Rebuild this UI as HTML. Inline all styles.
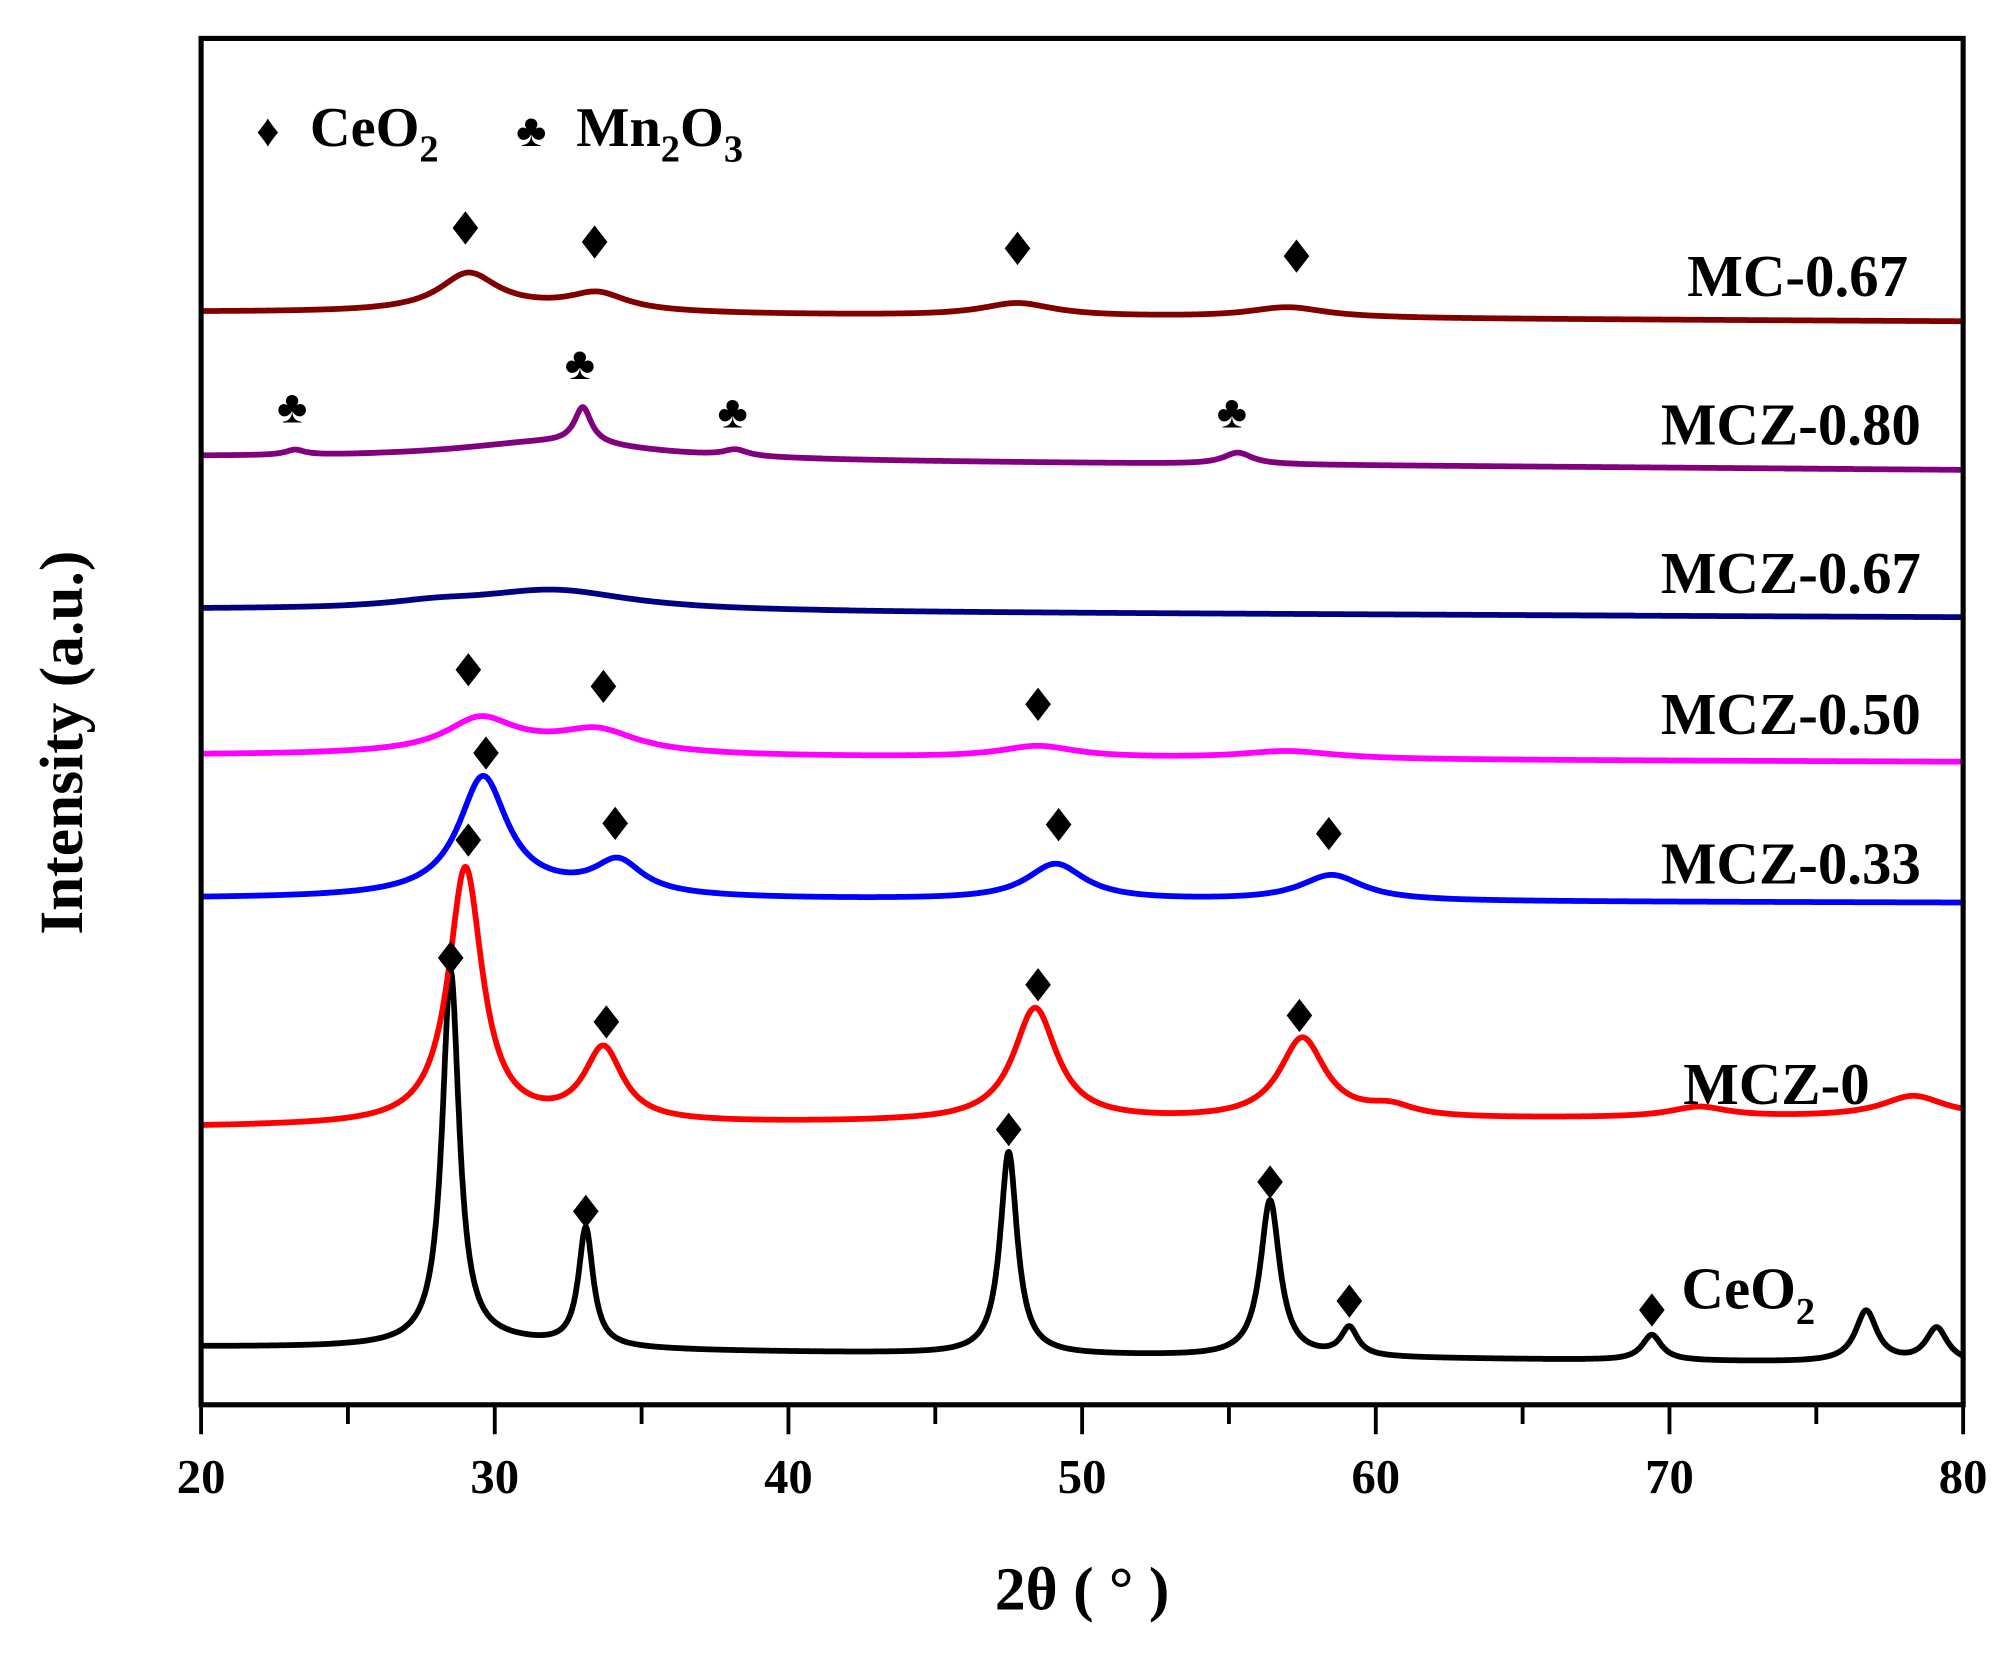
<!DOCTYPE html>
<html><head><meta charset="utf-8"><style>
html,body{margin:0;padding:0;background:#fff;}
svg{display:block;}
text{font-family:"Liberation Serif",serif;font-weight:bold;fill:#000;}
</style></head><body>
<svg id="chart" width="2008" height="1655" viewBox="0 0 1568 1292.4" xmlns="http://www.w3.org/2000/svg">
<rect x="0" y="0" width="1568" height="1293" fill="#fff"/>
<g id="series"></g>
<g id="markers"></g>
<rect x="157" y="30" width="1376" height="1067" fill="none" stroke="#000" stroke-width="4"/>
<g id="axis"></g>
<text x="845" y="1257" font-size="48" text-anchor="middle">2θ ( ° )</text>
<text transform="translate(64,580) rotate(-90)" font-size="48" text-anchor="middle">Intensity (a.u.)</text>
<g>
<text x="200" y="114" font-size="36">♦</text>
<text x="242" y="114" font-size="44">CeO<tspan font-size="30" dy="12">2</tspan></text>
<text x="403" y="114" font-size="36">♣</text>
<text x="450" y="114" font-size="44">Mn<tspan font-size="30" dy="12">2</tspan><tspan dy="-12">O</tspan><tspan font-size="30" dy="12">3</tspan></text>
</g>
</svg>
<script>
// Data
const seriesNames = ["CeO2","MCZ-0","MCZ-0.33","MCZ-0.50","MCZ-0.67","MCZ-0.80","MC-0.67"];
const seriesColors = ["#000000","#ff0000","#0000ff","#ff00ff","#000080","#800080","#800000"];
const baseStart = [1052,880,702,590,476,357,244];
const baseEnd = [1065,872,705,595,482,367,251];
const peaksCeO2 = [[28.5,290,0.35],[33.1,92,0.3],[47.5,158,0.35],[56.4,122,0.4],[59.1,22,0.35],[69.4,20,0.4],[76.7,40,0.45],[79.1,27,0.45],[30,6,3]];
const peaksMCZ0 = [[29.0,200,0.7],[33.7,57,0.8],[48.4,88,0.9],[57.5,63,0.95],[60.5,8,1],[71,8,1.2],[78.3,16,1.3]];
const peaksMCZ033 = [[29.6,90,1.0],[34.2,25,1.0],[49.1,28,1.2],[58.5,20,1.3],[31,6,4]];
const peaksMCZ050 = [[29.5,24,1.4],[33.5,16,1.6],[48.5,9,1.6],[57,6,2],[31,6,4]];
const peaksMCZ067 = [[32,16,3.2],[28,4,2]];
const peaksMCZ080 = [[33,28,0.35],[32,14,4],[23.2,4,0.4],[38.2,5,0.5],[55.3,9,0.6]];
const peaksMC067 = [[29.1,28,1.2],[33.5,13,1.2],[47.8,10,1.5],[57,8,1.6],[31,4,4]];
const seriesPeaks = [peaksCeO2,peaksMCZ0,peaksMCZ033,peaksMCZ050,peaksMCZ067,peaksMCZ080,peaksMC067];
const labelTexts = ["CeO","MCZ-0","MCZ-0.33","MCZ-0.50","MCZ-0.67","MCZ-0.80","MC-0.67"];
const labelPos = [[1420,1022],[1460,862],[1500,690],[1500,573],[1500,463],[1500,347],[1490,231]];
const diamondAngles = [[28.5,33.1,47.5,56.4,59.1,69.4],[29.1,33.8,48.5,57.4],[29.7,34.1,49.2,58.4],[29.1,33.7,48.5],[],[],[29.0,33.4,47.8,57.3]];
const diamondYs = [[748,946,882,923,1016,1023],[656,798,769,793],[588,643,644,651],[523,536,550],[],[],[178,189,194,200]];
const clubAngles = [23.1,32.9,38.1,55.1];
const clubYs = [318,284,322,322];
const xTicks = [20,30,40,50,60,70,80];
const xMinor = [25,35,45,55,65,75];

const NS="http://www.w3.org/2000/svg";
const X0=20,X1=80,PL=157,PR=1533;
function xs(v){return PL+(v-X0)/(X1-X0)*(PR-PL);}
function yVal(i,t){
  let y=baseStart[i]+(baseEnd[i]-baseStart[i])*(t-X0)/(X1-X0);
  for(const p of seriesPeaks[i]){const d=(t-p[0])/p[2];y-=p[1]/(1+d*d);}
  return y;
}
const sg=document.getElementById('series');
for(let i=0;i<seriesNames.length;i++){
  let d="";
  for(let t=X0;t<=X1+1e-9;t+=0.02){d+=(d?"L":"M")+xs(t).toFixed(1)+","+yVal(i,t).toFixed(1);}
  const p=document.createElementNS(NS,'path');
  p.setAttribute('d',d);p.setAttribute('fill','none');p.setAttribute('stroke',seriesColors[i]);
  p.setAttribute('stroke-width','4.5');p.setAttribute('stroke-linejoin','round');
  
  
  sg.appendChild(p);
  const tx=document.createElementNS(NS,'text');
  tx.setAttribute('x',labelPos[i][0]);tx.setAttribute('y',labelPos[i][1]);
  tx.setAttribute('font-size','46');tx.setAttribute('text-anchor','end');
  tx.textContent=labelTexts[i];
  if(i===0){const s=document.createElementNS(NS,'tspan');s.setAttribute('font-size','30');s.setAttribute('dy','12');s.textContent='2';tx.appendChild(s);tx.setAttribute('text-anchor','start');tx.setAttribute('x','1313');}
  
  
  sg.appendChild(tx);
}
const mg=document.getElementById('markers');
for(let i=0;i<diamondAngles.length;i++){
  for(let j=0;j<diamondAngles[i].length;j++){
    const cx=xs(diamondAngles[i][j]),cy=diamondYs[i][j];
    const pg=document.createElementNS(NS,'polygon');
    pg.setAttribute('points',`${cx},${cy-13} ${cx+10},${cy} ${cx},${cy+13} ${cx-10},${cy}`);
    pg.setAttribute('fill','#000');
    
    
    mg.appendChild(pg);
  }
}
for(let j=0;j<clubAngles.length;j++){
  const t=document.createElementNS(NS,'text');
  t.setAttribute('x',xs(clubAngles[j]));t.setAttribute('y',clubYs[j]+12);
  t.setAttribute('font-size','36');t.setAttribute('text-anchor','middle');
  t.textContent='♣';
  
  
  mg.appendChild(t);
}
const ag=document.getElementById('axis');
for(const v of xTicks){
  const l=document.createElementNS(NS,'line');
  l.setAttribute('x1',xs(v));l.setAttribute('x2',xs(v));l.setAttribute('y1',1097);l.setAttribute('y2',1120);
  l.setAttribute('stroke','#000');l.setAttribute('stroke-width','3');
  
  
  ag.appendChild(l);
  const t=document.createElementNS(NS,'text');
  t.setAttribute('x',xs(v));t.setAttribute('y',1166);t.setAttribute('font-size','38');t.setAttribute('text-anchor','middle');
  t.textContent=v;
  
  
  ag.appendChild(t);
}
for(const v of xMinor){
  const l=document.createElementNS(NS,'line');
  l.setAttribute('x1',xs(v));l.setAttribute('x2',xs(v));l.setAttribute('y1',1097);l.setAttribute('y2',1112);
  l.setAttribute('stroke','#000');l.setAttribute('stroke-width','3');
  
  
  ag.appendChild(l);
}
</script>
</body></html>
